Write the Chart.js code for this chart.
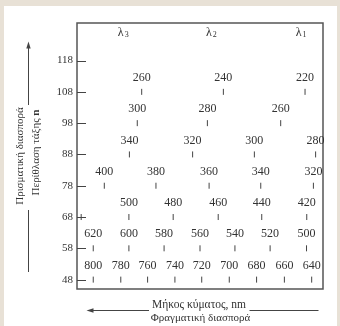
<!DOCTYPE html>
<html><head><meta charset="utf-8">
<script src="https://cdn.jsdelivr.net/npm/chart.js@4/dist/chart.umd.min.js"></script>
<style>html,body{margin:0;padding:0;background:#e8e1d6;}canvas{display:block;}</style>
</head><body>
<canvas id="c" width="340" height="326"></canvas>
<script>
// ---- data ----
const orders = [48, 58, 68, 78, 88, 98, 108];
const wavelengthsByOrder = [
  [800, 780, 760, 740, 720, 700, 680, 660, 640],
  [620, 600, 580, 560, 540, 520, 500],
  [520, 500, 480, 460, 440, 420],
  [400, 380, 360, 340, 320],
  [340, 320, 300, 280],
  [300, 280, 260],
  [260, 240, 220]
];
// position along the grating-dispersion direction (0..100 across the plot)
const positionsByOrder = [
  [6.6, 17.8, 28.7, 39.8, 50.7, 61.9, 73.0, 84.3, 95.4],
  [6.6, 21.1, 35.4, 50.0, 64.2, 78.5, 93.3],
  [1.7, 21.1, 39.1, 57.4, 75.1, 93.4],
  [11.1, 32.1, 53.7, 74.7, 96.1],
  [21.3, 47.0, 72.1, 97.0],
  [24.5, 53.0, 82.8],
  [26.3, 59.5, 92.7]
];
// marks whose wavelength label is not printed in the picture
const unlabeledMarks = ['68:520'];
const yTickValues = [48, 58, 68, 78, 88, 98, 108, 118];
const yTickLabels = ['48', '58', '68', '78', '88', '98', '108', '118'];
const columnNames = ['λ', 'λ', 'λ'];
const columnSubscripts = ['3', '2', '1'];
const columnPositions = [18.8, 54.6, 91.1];
const columnLevel = 127.0;
const xTitle = 'Μήκος κύματος, nm';
const xSubTitle = 'Φραγματική διασπορά';
const yTitle = 'Πρισματική διασπορά';
const ySubTitle = 'Περίθλαση τάξης ';
const ySubTitleBold = 'n';

const SERIF = "'Liberation Serif','Times New Roman',serif";
const TEXT = '#333333';

const datasets = orders.map((n, i) => ({
  label: 'n=' + n,
  data: positionsByOrder[i].map((p, j) => ({ x: p, y: n, w: wavelengthsByOrder[i][j] })),
  showLine: false,
  pointStyle: 'line',
  rotation: 90,
  radius: 3,
  borderWidth: 1,
  borderColor: '#444',
  backgroundColor: '#444'
}));

function arrowHead(ctx, x, y, dir) {
  ctx.beginPath();
  if (dir === 'up') { ctx.moveTo(x, y); ctx.lineTo(x - 2.2, y + 7); ctx.lineTo(x + 2.2, y + 7); }
  else { ctx.moveTo(x, y); ctx.lineTo(x + 7, y - 2.2); ctx.lineTo(x + 7, y + 2.2); }
  ctx.closePath(); ctx.fill();
}

const decor = {
  id: 'decor',
  beforeDraw(chart) {
    const ctx = chart.ctx;
    ctx.save();
    ctx.fillStyle = '#e8e1d6';
    ctx.fillRect(0, 0, 340, 326);
    ctx.fillStyle = '#ffffff';
    ctx.fillRect(4, 6, 333, 320);
    ctx.restore();
  },
  afterDraw(chart) {
    const ctx = chart.ctx, a = chart.chartArea, xs = chart.scales.x, ys = chart.scales.y;
    ctx.save();
    // frame
    ctx.strokeStyle = '#555'; ctx.lineWidth = 1.5;
    ctx.strokeRect(a.left, a.top, a.right - a.left, a.bottom - a.top);
    // inward ticks
    ctx.strokeStyle = '#444'; ctx.lineWidth = 1;
    yTickValues.forEach(v => {
      const y = Math.round(ys.getPixelForValue(v)) + 0.5;
      ctx.beginPath(); ctx.moveTo(a.left, y); ctx.lineTo(a.left + 9, y); ctx.stroke();
    });
    // wavelength labels
    ctx.fillStyle = TEXT; ctx.font = '12px ' + SERIF;
    ctx.textAlign = 'center'; ctx.textBaseline = 'middle';
    orders.forEach((n, i) => {
      positionsByOrder[i].forEach((p, j) => {
        const w = wavelengthsByOrder[i][j];
        if (unlabeledMarks.includes(n + ':' + w)) return;
        ctx.fillText(String(w), xs.getPixelForValue(p), ys.getPixelForValue(n) - 14);
      });
    });
    // column headings λ with subscript
    columnNames.forEach((t, i) => {
      const cx = xs.getPixelForValue(columnPositions[i]), cy = ys.getPixelForValue(columnLevel);
      ctx.font = '12px ' + SERIF;
      const w1 = ctx.measureText(t).width;
      ctx.font = '8px ' + SERIF;
      const w2 = ctx.measureText(columnSubscripts[i]).width;
      const x0 = cx - (w1 + w2 + 1) / 2;
      ctx.textAlign = 'left';
      ctx.font = '12px ' + SERIF; ctx.fillText(t, x0, cy);
      ctx.font = '8px ' + SERIF; ctx.fillText(columnSubscripts[i], x0 + w1 + 1, cy + 3);
    });
    // bottom titles and arrow
    ctx.textAlign = 'center';
    ctx.font = '11.5px ' + SERIF;
    ctx.fillText(xTitle, 199, 304.5);
    ctx.font = '11px ' + SERIF;
    ctx.fillText(xSubTitle, 200.5, 318.5);
    ctx.strokeStyle = '#444'; ctx.fillStyle = '#444'; ctx.lineWidth = 1;
    ctx.beginPath(); ctx.moveTo(90, 310.5); ctx.lineTo(149, 310.5); ctx.stroke();
    ctx.beginPath(); ctx.moveTo(249.5, 310.5); ctx.lineTo(318.5, 310.5); ctx.stroke();
    arrowHead(ctx, 86.5, 310.5, 'left');
    // left titles and arrow
    ctx.beginPath(); ctx.moveTo(28.5, 47); ctx.lineTo(28.5, 105); ctx.stroke();
    ctx.beginPath(); ctx.moveTo(28.5, 210); ctx.lineTo(28.5, 272); ctx.stroke();
    arrowHead(ctx, 28.5, 41.5, 'up');
    ctx.fillStyle = TEXT;
    ctx.save(); ctx.translate(20.5, 156); ctx.rotate(-Math.PI / 2);
    ctx.font = '11px ' + SERIF; ctx.fillText(yTitle, 0, 0); ctx.restore();
    ctx.save(); ctx.translate(36, 152.5); ctx.rotate(-Math.PI / 2);
    ctx.font = '11px ' + SERIF; const a1 = ctx.measureText(ySubTitle).width;
    ctx.font = 'bold 11px ' + SERIF; const a2 = ctx.measureText(ySubTitleBold).width;
    ctx.textAlign = 'left';
    ctx.font = '11px ' + SERIF; ctx.fillText(ySubTitle, -(a1 + a2) / 2, 0);
    ctx.font = 'bold 11px ' + SERIF; ctx.fillText(ySubTitleBold, -(a1 + a2) / 2 + a1, 0);
    ctx.restore();
    ctx.restore();
  }
};

new Chart(document.getElementById('c'), {
  type: 'scatter',
  data: { datasets },
  options: {
    responsive: false,
    animation: false,
    devicePixelRatio: 1,
    events: [],
    layout: { padding: { left: 0, top: 23, right: 17, bottom: 37 } },
    plugins: { legend: { display: false }, tooltip: { enabled: false } },
    scales: {
      x: { type: 'linear', min: 0, max: 100, display: false },
      y: {
        type: 'linear', min: 45, max: 130,
        grid: { display: false, drawTicks: false },
        border: { display: false },
        afterBuildTicks(s) { s.ticks = yTickValues.map(v => ({ value: v })); },
        afterFit(s) { s.width = 77; },
        ticks: {
          padding: 4, color: TEXT,
          font: { family: SERIF, size: 11 },
          callback: (v) => yTickLabels[yTickValues.indexOf(v)]
        }
      }
    }
  },
  plugins: [decor]
});
</script>
</body></html>
